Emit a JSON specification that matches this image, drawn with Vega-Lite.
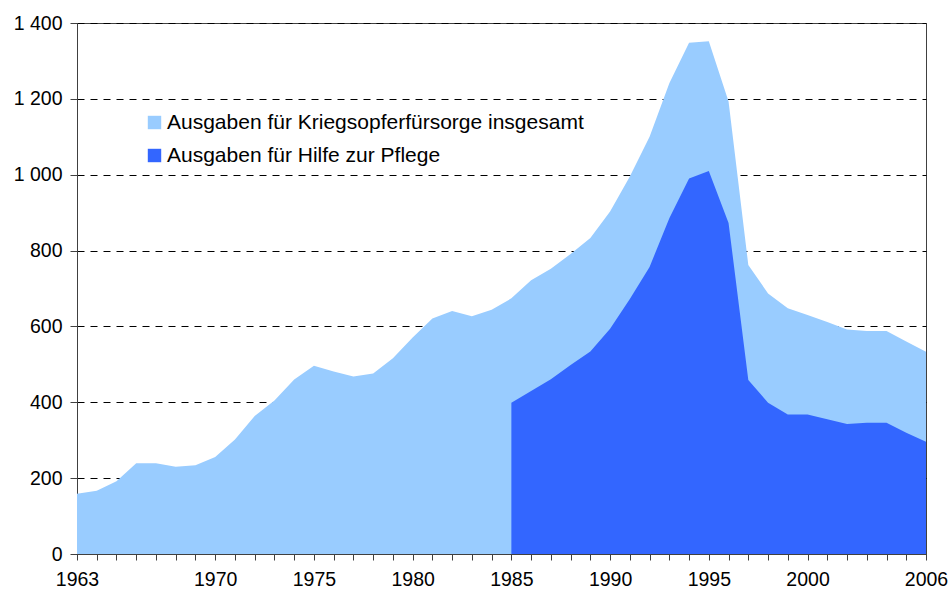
{
  "$schema": "https://vega.github.io/schema/vega-lite/v6.json",
  "width": 849,
  "height": 531,
  "autosize": {"type": "none"},
  "padding": {"left": 77, "top": 23, "right": 23, "bottom": 38},
  "background": "white",
  "config": {
    "view": {"stroke": "#404040", "strokeWidth": 1},
    "font": "Liberation Sans",
    "axis": {"labelFont": "Liberation Sans", "labelFontSize": 19.5, "labelColor": "#000", "domainColor": "#404040", "tickColor": "#404040", "title": null}
  },
  "datasets": {
    "d": [
      {"series": "Ausgaben für Kriegsopferfürsorge insgesamt", "year": 1963, "value": 159},
      {"series": "Ausgaben für Kriegsopferfürsorge insgesamt", "year": 1964, "value": 167},
      {"series": "Ausgaben für Kriegsopferfürsorge insgesamt", "year": 1965, "value": 192},
      {"series": "Ausgaben für Kriegsopferfürsorge insgesamt", "year": 1966, "value": 239},
      {"series": "Ausgaben für Kriegsopferfürsorge insgesamt", "year": 1967, "value": 239},
      {"series": "Ausgaben für Kriegsopferfürsorge insgesamt", "year": 1968, "value": 230},
      {"series": "Ausgaben für Kriegsopferfürsorge insgesamt", "year": 1969, "value": 234},
      {"series": "Ausgaben für Kriegsopferfürsorge insgesamt", "year": 1970, "value": 256},
      {"series": "Ausgaben für Kriegsopferfürsorge insgesamt", "year": 1971, "value": 302},
      {"series": "Ausgaben für Kriegsopferfürsorge insgesamt", "year": 1972, "value": 364},
      {"series": "Ausgaben für Kriegsopferfürsorge insgesamt", "year": 1973, "value": 405},
      {"series": "Ausgaben für Kriegsopferfürsorge insgesamt", "year": 1974, "value": 460},
      {"series": "Ausgaben für Kriegsopferfürsorge insgesamt", "year": 1975, "value": 496},
      {"series": "Ausgaben für Kriegsopferfürsorge insgesamt", "year": 1976, "value": 481},
      {"series": "Ausgaben für Kriegsopferfürsorge insgesamt", "year": 1977, "value": 468},
      {"series": "Ausgaben für Kriegsopferfürsorge insgesamt", "year": 1978, "value": 476},
      {"series": "Ausgaben für Kriegsopferfürsorge insgesamt", "year": 1979, "value": 516},
      {"series": "Ausgaben für Kriegsopferfürsorge insgesamt", "year": 1980, "value": 571},
      {"series": "Ausgaben für Kriegsopferfürsorge insgesamt", "year": 1981, "value": 621},
      {"series": "Ausgaben für Kriegsopferfürsorge insgesamt", "year": 1982, "value": 641},
      {"series": "Ausgaben für Kriegsopferfürsorge insgesamt", "year": 1983, "value": 627},
      {"series": "Ausgaben für Kriegsopferfürsorge insgesamt", "year": 1984, "value": 644},
      {"series": "Ausgaben für Kriegsopferfürsorge insgesamt", "year": 1985, "value": 674},
      {"series": "Ausgaben für Kriegsopferfürsorge insgesamt", "year": 1986, "value": 722},
      {"series": "Ausgaben für Kriegsopferfürsorge insgesamt", "year": 1987, "value": 752},
      {"series": "Ausgaben für Kriegsopferfürsorge insgesamt", "year": 1988, "value": 791},
      {"series": "Ausgaben für Kriegsopferfürsorge insgesamt", "year": 1989, "value": 833},
      {"series": "Ausgaben für Kriegsopferfürsorge insgesamt", "year": 1990, "value": 903},
      {"series": "Ausgaben für Kriegsopferfürsorge insgesamt", "year": 1991, "value": 995},
      {"series": "Ausgaben für Kriegsopferfürsorge insgesamt", "year": 1992, "value": 1100},
      {"series": "Ausgaben für Kriegsopferfürsorge insgesamt", "year": 1993, "value": 1241},
      {"series": "Ausgaben für Kriegsopferfürsorge insgesamt", "year": 1994, "value": 1348},
      {"series": "Ausgaben für Kriegsopferfürsorge insgesamt", "year": 1995, "value": 1352},
      {"series": "Ausgaben für Kriegsopferfürsorge insgesamt", "year": 1996, "value": 1193},
      {"series": "Ausgaben für Kriegsopferfürsorge insgesamt", "year": 1997, "value": 762},
      {"series": "Ausgaben für Kriegsopferfürsorge insgesamt", "year": 1998, "value": 687},
      {"series": "Ausgaben für Kriegsopferfürsorge insgesamt", "year": 1999, "value": 648},
      {"series": "Ausgaben für Kriegsopferfürsorge insgesamt", "year": 2000, "value": 630},
      {"series": "Ausgaben für Kriegsopferfürsorge insgesamt", "year": 2001, "value": 612},
      {"series": "Ausgaben für Kriegsopferfürsorge insgesamt", "year": 2002, "value": 592},
      {"series": "Ausgaben für Kriegsopferfürsorge insgesamt", "year": 2003, "value": 588},
      {"series": "Ausgaben für Kriegsopferfürsorge insgesamt", "year": 2004, "value": 588},
      {"series": "Ausgaben für Kriegsopferfürsorge insgesamt", "year": 2005, "value": 560},
      {"series": "Ausgaben für Kriegsopferfürsorge insgesamt", "year": 2006, "value": 533},
      {"series": "Ausgaben für Hilfe zur Pflege", "year": 1985, "value": 399},
      {"series": "Ausgaben für Hilfe zur Pflege", "year": 1986, "value": 430},
      {"series": "Ausgaben für Hilfe zur Pflege", "year": 1987, "value": 461},
      {"series": "Ausgaben für Hilfe zur Pflege", "year": 1988, "value": 498},
      {"series": "Ausgaben für Hilfe zur Pflege", "year": 1989, "value": 534},
      {"series": "Ausgaben für Hilfe zur Pflege", "year": 1990, "value": 594},
      {"series": "Ausgaben für Hilfe zur Pflege", "year": 1991, "value": 672},
      {"series": "Ausgaben für Hilfe zur Pflege", "year": 1992, "value": 757},
      {"series": "Ausgaben für Hilfe zur Pflege", "year": 1993, "value": 885},
      {"series": "Ausgaben für Hilfe zur Pflege", "year": 1994, "value": 990},
      {"series": "Ausgaben für Hilfe zur Pflege", "year": 1995, "value": 1010},
      {"series": "Ausgaben für Hilfe zur Pflege", "year": 1996, "value": 873},
      {"series": "Ausgaben für Hilfe zur Pflege", "year": 1997, "value": 459},
      {"series": "Ausgaben für Hilfe zur Pflege", "year": 1998, "value": 399},
      {"series": "Ausgaben für Hilfe zur Pflege", "year": 1999, "value": 368},
      {"series": "Ausgaben für Hilfe zur Pflege", "year": 2000, "value": 368},
      {"series": "Ausgaben für Hilfe zur Pflege", "year": 2001, "value": 355},
      {"series": "Ausgaben für Hilfe zur Pflege", "year": 2002, "value": 343},
      {"series": "Ausgaben für Hilfe zur Pflege", "year": 2003, "value": 346},
      {"series": "Ausgaben für Hilfe zur Pflege", "year": 2004, "value": 346},
      {"series": "Ausgaben für Hilfe zur Pflege", "year": 2005, "value": 320},
      {"series": "Ausgaben für Hilfe zur Pflege", "year": 2006, "value": 296}
    ]
  },
  "data": {"name": "d"},
  "encoding": {
    "x": {
      "field": "year", "type": "quantitative",
      "scale": {"domain": [1963, 2006], "nice": false, "zero": false},
      "axis": {
        "values": [1963,1964,1965,1966,1967,1968,1969,1970,1971,1972,1973,1974,1975,1976,1977,1978,1979,1980,1981,1982,1983,1984,1985,1986,1987,1988,1989,1990,1991,1992,1993,1994,1995,1996,1997,1998,1999,2000,2001,2002,2003,2004,2005,2006],
        "labelExpr": "(datum.value == 1963 || datum.value == 2006 || (datum.value % 5 == 0 && datum.value >= 1970 && datum.value <= 2000)) ? format(datum.value, 'd') : ''",
        "labelOverlap": false,
        "labelFlush": false,
        "tickSize": 6,
        "labelPadding": 10,
        "grid": false
      }
    },
    "y": {
      "field": "value", "type": "quantitative",
      "scale": {"domain": [0, 1400], "nice": false},
      "axis": {
        "values": [0, 200, 400, 600, 800, 1000, 1200, 1400],
        "labelExpr": "replace(format(datum.value, ','), ',', ' ')",
        "tickSize": 7,
        "labelPadding": 8,
        "grid": true,
        "gridColor": "#000",
        "gridDash": [7, 6],
        "gridWidth": 1,
        "labelOverlap": false
      }
    },
    "color": {
      "field": "series", "type": "nominal",
      "scale": {
        "domain": ["Ausgaben für Kriegsopferfürsorge insgesamt", "Ausgaben für Hilfe zur Pflege"],
        "range": ["#99CCFF", "#3366FF"]
      },
      "legend": {
        "title": null,
        "orient": "none",
        "legendX": 67,
        "legendY": 89,
        "padding": 0,
        "symbolType": "square",
        "symbolSize": 180,
        "symbolStrokeWidth": 0,
        "symbolOpacity": 1,
        "labelFont": "Liberation Sans",
        "labelFontSize": 21,
        "labelColor": "#000",
        "labelOffset": 2,
        "rowPadding": 11,
        "labelLimit": 600
      }
    }
  },
  "layer": [
    {
      "transform": [{"filter": "datum.series == 'Ausgaben für Kriegsopferfürsorge insgesamt'"}],
      "mark": {"type": "area", "opacity": 1}
    },
    {
      "transform": [{"filter": "datum.series == 'Ausgaben für Hilfe zur Pflege'"}],
      "mark": {"type": "area", "opacity": 1}
    }
  ]
}
